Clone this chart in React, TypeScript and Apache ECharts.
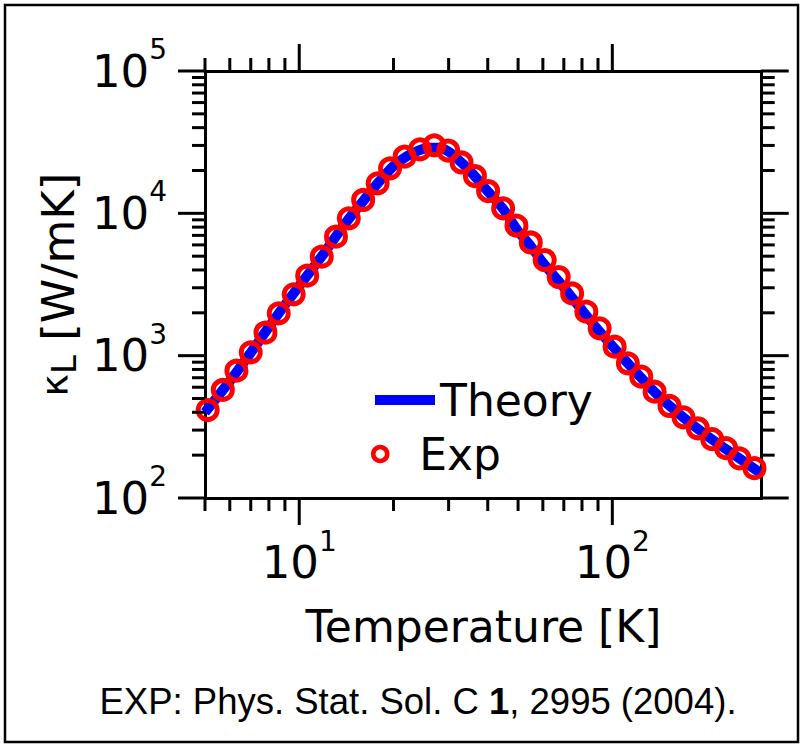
import React, { useEffect, useRef } from 'react';
import * as echarts from 'echarts';

// Experimental points (red open circles)
const expTemperature = [5.1, 5.7, 6.3, 7.0, 7.8, 8.6, 9.6, 10.6, 11.8, 13.1, 14.4, 16.0, 17.8, 19.5, 21.7, 24.3, 27.0, 29.9, 33.0, 36.4, 40.1, 44.8, 49.4, 54.9, 60.8, 67.4, 74.4, 82.6, 91.1, 101.7, 112.1, 123.7, 136.5, 152.3, 168.8, 187.5, 208.4, 230.9, 254.7, 284.4];
const expKappa = [415, 574, 784, 1056, 1450, 1985, 2699, 3647, 4960, 6850, 9230, 12410, 16260, 20730, 25000, 28180, 30060, 27630, 22760, 18290, 14350, 10850, 8210, 6240, 4700, 3570, 2735, 2037, 1557, 1156, 884, 712, 558, 443, 369, 309, 259, 224, 190, 162];

// Theory curve (blue line)
const theoryTemperature = [5, 6, 7, 8, 9, 10, 12, 14, 16, 18, 20, 22, 24, 26, 28, 30, 33, 36, 40, 45, 50, 55, 60, 70, 80, 90, 100, 120, 140, 170, 200, 250, 300];
const theoryKappa = [400, 662, 1050, 1590, 2275, 3090, 5250, 8450, 12200, 16700, 21500, 25100, 27600, 28900, 28900, 27100, 22700, 18700, 14300, 10600, 7500, 5850, 4500, 3020, 2090, 1520, 1170, 750, 525, 362, 275, 195, 148];

// Axis ranges and ticks
const X_MIN = 5;
const X_MAX = 300;
const Y_MIN = 100;
const Y_MAX = 100000;
const xMajorTicks = [10, 100];
const xMinorTicks = [5, 6, 7, 8, 9, 20, 30, 40, 50, 60, 70, 80, 90];
const yMajorTicks = [100, 1000, 10000, 100000];
const yMinorTicks = [200, 300, 400, 500, 600, 700, 800, 900, 2000, 3000, 4000, 5000, 6000, 7000, 8000, 9000, 20000, 30000, 40000, 50000, 60000, 70000, 80000, 90000];

const xTitle = 'Temperature [K]';
const citationParts = ['EXP: Phys. Stat. Sol. C ', '1', ', 2995 (2004).'];

const CHART_FONT = '"DejaVu Sans", sans-serif';
const CITE_FONT = '"Liberation Sans", Arial, sans-serif';

const powerLabel = (v: number) => {
  const e = Math.log10(v);
  if (Math.abs(e - Math.round(e)) > 1e-6) return '';
  return `{b|10}{s|${Math.round(e)}}`;
};

const labelRich = {
  b: { fontFamily: CHART_FONT, fontSize: 45, lineHeight: 45, verticalAlign: 'bottom', color: '#000' },
  s: { fontFamily: CHART_FONT, fontSize: 28, lineHeight: 28, padding: [0, 0, 30, 0], verticalAlign: 'bottom', color: '#000' },
};

const tickStyle = { stroke: '#000', lineWidth: 3 };

const xTickSeries = (ticks: number[], len: number) => ({
  type: 'custom',
  xAxisIndex: 0,
  yAxisIndex: 0,
  silent: true,
  clip: false,
  z: 6,
  data: ticks.map((v) => [v, Y_MIN]),
  renderItem: (_p: any, api: any) => {
    const v = api.value(0);
    const b = api.coord([v, Y_MIN]);
    const t = api.coord([v, Y_MAX]);
    return {
      type: 'group',
      children: [
        { type: 'line', shape: { x1: b[0], y1: b[1], x2: b[0], y2: b[1] + len }, style: tickStyle },
        { type: 'line', shape: { x1: t[0], y1: t[1], x2: t[0], y2: t[1] - len }, style: tickStyle },
      ],
    };
  },
});

const yTickSeries = (ticks: number[], len: number) => ({
  type: 'custom',
  xAxisIndex: 0,
  yAxisIndex: 0,
  silent: true,
  clip: false,
  z: 6,
  data: ticks.map((v) => [X_MIN, v]),
  renderItem: (_p: any, api: any) => {
    const v = api.value(1);
    const l = api.coord([X_MIN, v]);
    const r = api.coord([X_MAX, v]);
    return {
      type: 'group',
      children: [
        { type: 'line', shape: { x1: l[0], y1: l[1], x2: l[0] - len, y2: l[1] }, style: tickStyle },
        { type: 'line', shape: { x1: r[0], y1: r[1], x2: r[0] + len, y2: r[1] }, style: tickStyle },
      ],
    };
  },
});

export default function App() {
  const ref = useRef<HTMLDivElement>(null);

  useEffect(() => {
    if (!ref.current) return;
    const chart = echarts.init(ref.current, null, { renderer: 'svg' });

    const axisLine = { show: true, onZero: false, lineStyle: { color: '#000', width: 3 } };

    chart.setOption({
      animation: false,
      backgroundColor: '#fff',
      textStyle: { fontFamily: CHART_FONT },
      grid: {
        left: 205,
        top: 71,
        width: 556.7,
        height: 427,
        containLabel: false,
        outerBoundsMode: 'none',
      },
      xAxis: [
        {
          type: 'log',
          logBase: 10,
          position: 'bottom',
          min: X_MIN,
          max: X_MAX,
          axisLine,
          axisTick: { show: false },
          splitLine: { show: false },
          axisLabel: {
            show: true,
            interval: 0,
            margin: 42,
            formatter: powerLabel,
            rich: labelRich,
          },
          name: xTitle,
          nameLocation: 'middle',
          nameGap: 106,
          nameTextStyle: { fontFamily: CHART_FONT, fontSize: 44, lineHeight: 44, color: '#000' },
        },
        {
          type: 'log',
          logBase: 10,
          position: 'top',
          min: X_MIN,
          max: X_MAX,
          axisLine,
          axisTick: { show: false },
          axisLabel: { show: false },
          splitLine: { show: false },
        },
      ],
      yAxis: [
        {
          type: 'log',
          logBase: 10,
          position: 'left',
          min: Y_MIN,
          max: Y_MAX,
          axisLine,
          axisTick: { show: false },
          splitLine: { show: false },
          axisLabel: {
            show: true,
            interval: 0,
            margin: 38,
            formatter: powerLabel,
            rich: labelRich,
          },
          name: '{k|κ}{s|L}{n| [W/mK]}',
          nameLocation: 'middle',
          nameRotate: 90,
          nameGap: 120,
          nameTextStyle: {
            color: '#000',
            rich: {
              k: { fontFamily: CHART_FONT, fontSize: 38, lineHeight: 38, verticalAlign: 'top', color: '#000' },
              n: { fontFamily: CHART_FONT, fontSize: 45, lineHeight: 45, verticalAlign: 'top', color: '#000' },
              s: { fontFamily: CHART_FONT, fontSize: 34, lineHeight: 34, padding: [35, 0, 0, 0], verticalAlign: 'bottom', color: '#000' },
            },
          },
        },
        {
          type: 'log',
          logBase: 10,
          position: 'right',
          min: Y_MIN,
          max: Y_MAX,
          axisLine,
          axisTick: { show: false },
          axisLabel: { show: false },
          splitLine: { show: false },
        },
      ],
      legend: [
        {
          data: [{ name: 'Theory', icon: 'rect' }],
          orient: 'vertical',
          left: 375,
          top: 378,
          padding: 0,
          itemWidth: 60,
          itemHeight: 10,
          selectedMode: false,
          textStyle: { fontFamily: CHART_FONT, fontSize: 44, color: '#000' },
        },
        {
          data: [
            {
              name: 'Exp',
              icon: 'circle',
              itemStyle: { color: 'rgba(0,0,0,0)', borderColor: '#ff0000', borderWidth: 4.5 },
            },
          ],
          orient: 'vertical',
          left: 371,
          top: 432,
          padding: 0,
          itemWidth: 60,
          itemHeight: 14,
          selectedMode: false,
          textStyle: { fontFamily: CHART_FONT, fontSize: 44, color: '#000', padding: [0, 0, 0, 4] },
        },
      ],
      graphic: [
        {
          type: 'rect',
          silent: true,
          shape: { x: 5, y: 5, width: 793, height: 737 },
          style: { fill: 'none', stroke: '#000', lineWidth: 2.5 },
        },
        {
          type: 'text',
          silent: true,
          x: 418,
          y: 701,
          style: {
            text: `{a|${citationParts[0]}}{b|${citationParts[1]}}{a|${citationParts[2]}}`,
            align: 'center',
            verticalAlign: 'middle',
            rich: {
              a: { fontFamily: CITE_FONT, fontSize: 36.5, fill: '#000' },
              b: { fontFamily: CITE_FONT, fontSize: 36.5, fontWeight: 'bold', fill: '#000' },
            },
          },
        },
      ],
      series: [
        {
          name: 'Theory',
          type: 'line',
          xAxisIndex: 0,
          yAxisIndex: 0,
          data: theoryTemperature.map((t, i) => [t, theoryKappa[i]]),
          showSymbol: false,
          symbol: 'none',
          smooth: 0.3,
          color: '#0000ff',
          lineStyle: { color: '#0000ff', width: 10 },
          itemStyle: { color: '#0000ff' },
          z: 2,
        },
        {
          name: 'Exp',
          type: 'scatter',
          xAxisIndex: 0,
          yAxisIndex: 0,
          data: expTemperature.map((t, i) => [t, expKappa[i]]),
          symbol: 'circle',
          symbolSize: 19,
          clip: false,
          itemStyle: { color: 'rgba(0,0,0,0)', borderColor: '#ff0000', borderWidth: 5, opacity: 1 },
          z: 3,
        },
        xTickSeries(xMajorTicks, 27),
        xTickSeries(xMinorTicks, 13),
        yTickSeries(yMajorTicks, 27),
        yTickSeries(yMinorTicks, 13),
      ],
    });

    return () => chart.dispose();
  }, []);

  return (
    <div
      ref={ref}
      style={{ position: 'absolute', left: 0, top: 0, width: 805, height: 746, background: '#fff' }}
    />
  );
}
